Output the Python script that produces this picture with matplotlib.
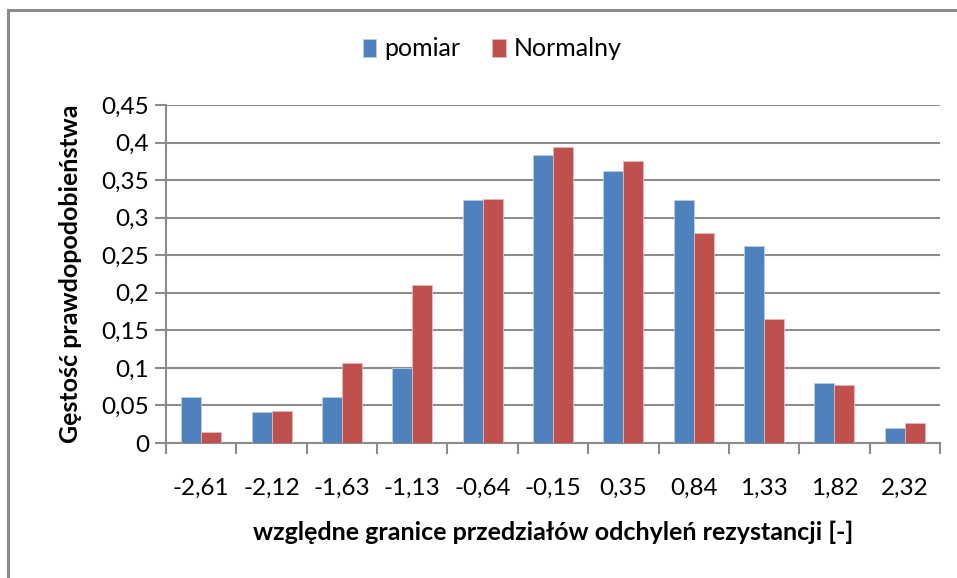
import numpy as np
import matplotlib.pyplot as plt
from matplotlib.patches import Rectangle

# granice przedzialow (etykiety osi X)
labels = ["-2,61", "-2,12", "-1,63", "-1,13", "-0,64", "-0,15",
          "0,35", "0,84", "1,33", "1,82", "2,32"]
pomiar = [0.061, 0.041, 0.061, 0.100, 0.323, 0.383, 0.362, 0.323, 0.262, 0.080, 0.020]
normalny = [0.014, 0.042, 0.107, 0.211, 0.325, 0.394, 0.376, 0.280, 0.165, 0.077, 0.027]
y_ticks = [0, 0.05, 0.1, 0.15, 0.2, 0.25, 0.3, 0.35, 0.4, 0.45]
y_tick_labels = ["0", "0,05", "0,1", "0,15", "0,2", "0,25", "0,3", "0,35", "0,4", "0,45"]

blue = "#4F81BD"
red = "#C0504D"
grid_col = "#8C8C8C"

plt.rcParams['font.family'] = ['Lato', 'DejaVu Sans']

fig = plt.figure(figsize=(9.57, 5.78), dpi=100)
# ramka wykresu
fig.patches.append(Rectangle((8 / 957, -0.1), 1.2, 1 - 10 / 578 + 0.1,
                             transform=fig.transFigure, fill=False,
                             edgecolor="#8A8A8A", linewidth=2.2))

ax = fig.add_axes([166 / 957, 1 - 443 / 578, (940 - 166) / 957, (443 - 105) / 578])

x = np.arange(len(labels))
w = 0.284
ax.bar(x - w / 2, pomiar, w, color=blue, edgecolor="#B9CDE5", linewidth=0.6,
       label="pomiar", zorder=3)
ax.bar(x + w / 2, normalny, w, color=red, edgecolor="#E6B9B8", linewidth=0.6,
       label="Normalny", zorder=3)

ax.set_xlim(-0.5, len(labels) - 0.5)
ax.set_ylim(0, 0.45)
ax.set_yticks(y_ticks)
ax.set_yticklabels(y_tick_labels, fontsize=17.5)
ax.yaxis.grid(True, color=grid_col, linewidth=1.5, zorder=0)
ax.set_axisbelow(True)

# x: znaczniki na granicach kategorii, etykiety w srodku
ax.set_xticks(np.arange(len(labels) + 1) - 0.5)
ax.set_xticklabels([])
ax.set_xticks(x, minor=True)
ax.set_xticklabels(labels, minor=True, fontsize=17.5)
ax.tick_params(axis="x", which="major", length=8, width=1.5, color=grid_col)
ax.tick_params(axis="x", which="minor", length=0, pad=25)
ax.tick_params(axis="y", length=8, width=1.5, color=grid_col, pad=4)

for s in ["top", "right"]:
    ax.spines[s].set_visible(False)
for s in ["left", "bottom"]:
    ax.spines[s].set_color(grid_col)
    ax.spines[s].set_linewidth(1.5)

ax.set_xlabel("względne granice przedziałów odchyleń rezystancji [-]",
              fontsize=18, fontweight="bold", labelpad=16)
ax.set_ylabel("Gęstość prawdopodobieństwa", fontsize=18, fontweight="bold",
              labelpad=14)

fig.legend(loc="center", bbox_to_anchor=(492 / 957, 1 - 49 / 578), ncol=2,
           frameon=False, fontsize=18, handlelength=0.55, handleheight=0.75,
           handletextpad=0.3, columnspacing=1.3)

fig.savefig("out.png", dpi=100)
